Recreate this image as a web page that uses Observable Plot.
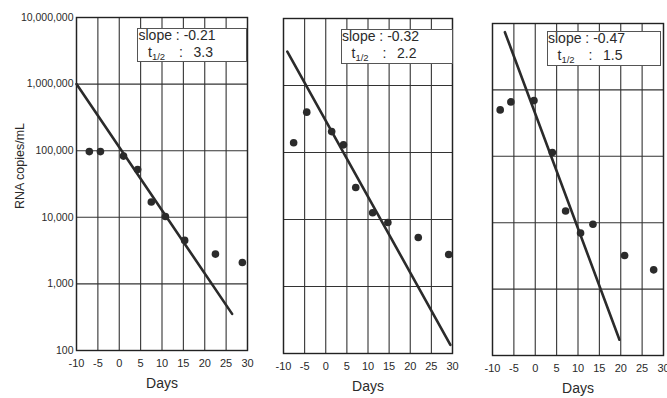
<!DOCTYPE html>
<html>
<head>
<meta charset="utf-8">
<script src="https://cdn.jsdelivr.net/npm/d3@7"></script>
<script src="https://cdn.jsdelivr.net/npm/@observablehq/plot@0.6"></script>
<style>
  body { margin: 0; background: #fff; }
  #chart { position: relative; width: 667px; height: 398px; overflow: hidden;
           font-family: "Liberation Sans", Arial, Helvetica, sans-serif; color: #2a2a2a; }
  .panel { position: absolute; top: 0; }
  .panel svg { display: block; background: transparent; overflow: visible; }
  .box { position: absolute; border: 1px solid #555; background: #fff; box-sizing: border-box; font-size: 14px; }
  .box span { position: absolute; white-space: nowrap; line-height: 14px; }
  .box sub { font-size: 9.5px; vertical-align: -3px; line-height: 0; }
  .ytitle { position: absolute; left: 20px; top: 166px; font-size: 12.5px; white-space: nowrap;
            transform: translate(-50%, -50%) rotate(-90deg); }
</style>
</head>
<body>
<div id="chart"></div>
<script>
// ---- data ----
const xTicks = [-10, -5, 0, 5, 10, 15, 20, 25, 30];
const yTicks = [100, 1000, 10000, 100000, 1000000, 10000000];
const yTitle = "RNA copies/mL";
const xTitle = "Days";

// panel 1
const days1 = [-7, -4.4, 1, 4.3, 7.5, 10.8, 15.3, 22.5, 28.8];
const rna1  = [97000, 97000, 83000, 52000, 17000, 10300, 4500, 2800, 2100];
const fitDays1 = [-10, 26.4];
const fitRna1  = [1000000, 355];

// panel 2
const days2 = [-7.6, -4.5, 1.4, 4.2, 7.1, 11.1, 14.7, 21.9, 29.1];
const rna2  = [140000, 400000, 205000, 130000, 30000, 12600, 9000, 5400, 3000];
const fitDays2 = [-9.1, 29.5];
const fitRna2  = [3200000, 135];

// panel 3
const days3 = [-8.2, -5.7, -0.3, 4.0, 7.1, 10.6, 13.5, 20.9, 27.7];
const rna3  = [500000, 660000, 690000, 114000, 15000, 7000, 9500, 3200, 1950];
const fitDays3 = [-7.1, 19.7];
const fitRna3  = [7400000, 173];

const slopes    = ["-0.21", "-0.32", "-0.47"];
const halfLives = ["3.3", "2.2", "1.5"];

// ---- layout ----
const ink = "#2b2b2b";
const font = "'Liberation Sans', Arial, Helvetica, sans-serif";
const panels = [
  {days: days1, rna: rna1, fd: fitDays1, fr: fitRna1, left: 0,   width: 265, ml: 76, mr: 18, mt: 17, mb: 48, yLabels: true,
   box: {left: 137, top: 28, width: 110, height: 34}},
  {days: days2, rna: rna2, fd: fitDays2, fr: fitRna2, left: 265, width: 205, ml: 18, mr: 18, mt: 18, mb: 45, yLabels: false,
   box: {left: 340.5, top: 29, width: 112, height: 35}},
  {days: days3, rna: rna3, fd: fitDays3, fr: fitRna3, left: 470, width: 197, ml: 22, mr: 4, mt: 23, mb: 43, yLabels: false,
   box: {left: 546.5, top: 31, width: 114, height: 35}}
];

const chart = document.getElementById("chart");

panels.forEach((p, i) => {
  const pts = p.days.map((d, k) => ({day: d, rna: p.rna[k]}));
  const fit = p.fd.map((d, k) => ({day: d, rna: p.fr[k]}));
  const bottom = 398 - p.mb;
  const marks = [
    Plot.ruleY(yTicks, {stroke: "#333", strokeWidth: 1.1}),
    Plot.ruleX(xTicks, {stroke: "#333", strokeWidth: 1.1}),
    Plot.frame({stroke: "#222", strokeWidth: 1.4}),
    Plot.line(fit, {x: "day", y: "rna", stroke: ink, strokeWidth: 2.6}),
    Plot.dot(pts, {x: "day", y: "rna", r: 3.8, fill: ink, stroke: "none"}),
    Plot.axisX({ticks: xTicks, tickSize: 0, tickPadding: 9, fontSize: 11, label: null, tickFormat: d => String(d)}),
    Plot.text([xTitle], {frameAnchor: "bottom", dy: 37.5, fontSize: 14, fill: "#2a2a2a"})
  ];
  if (p.yLabels) {
    marks.push(Plot.axisY({ticks: yTicks, tickSize: 0, tickPadding: 3, fontSize: 10.5, label: null,
                           tickFormat: d3.format(",")}));
  }
  const svg = Plot.plot({
    width: p.width,
    height: 398,
    marginLeft: p.ml, marginRight: p.mr, marginTop: p.mt, marginBottom: p.mb,
    style: {fontFamily: font, color: "#2a2a2a", background: "transparent", overflow: "visible"},
    x: {domain: [-10, 30]},
    y: {type: "log", domain: [100, 10000000], axis: p.yLabels ? undefined : null},
    marks
  });
  const wrap = document.createElement("div");
  wrap.className = "panel";
  wrap.style.left = p.left + "px";
  wrap.appendChild(svg);
  chart.appendChild(wrap);
});

// annotation boxes (drawn above the plots)
panels.forEach((p, i) => {
  const b = document.createElement("div");
  b.className = "box";
  Object.assign(b.style, {left: p.box.left + "px", top: p.box.top + "px", width: p.box.width + "px", height: p.box.height + "px"});
  b.innerHTML =
    `<span style="left:0.5px;top:-1.4px">slope : ${slopes[i]}</span>` +
    `<span style="left:10px;top:15.6px">t<sub>1/2</sub></span>` +
    `<span style="left:41px;top:15.6px">:</span>` +
    `<span style="left:55.5px;top:15.6px">${halfLives[i]}</span>`;
  chart.appendChild(b);
});

const yt = document.createElement("div");
yt.className = "ytitle";
yt.textContent = yTitle;
chart.appendChild(yt);
</script>
</body>
</html>
